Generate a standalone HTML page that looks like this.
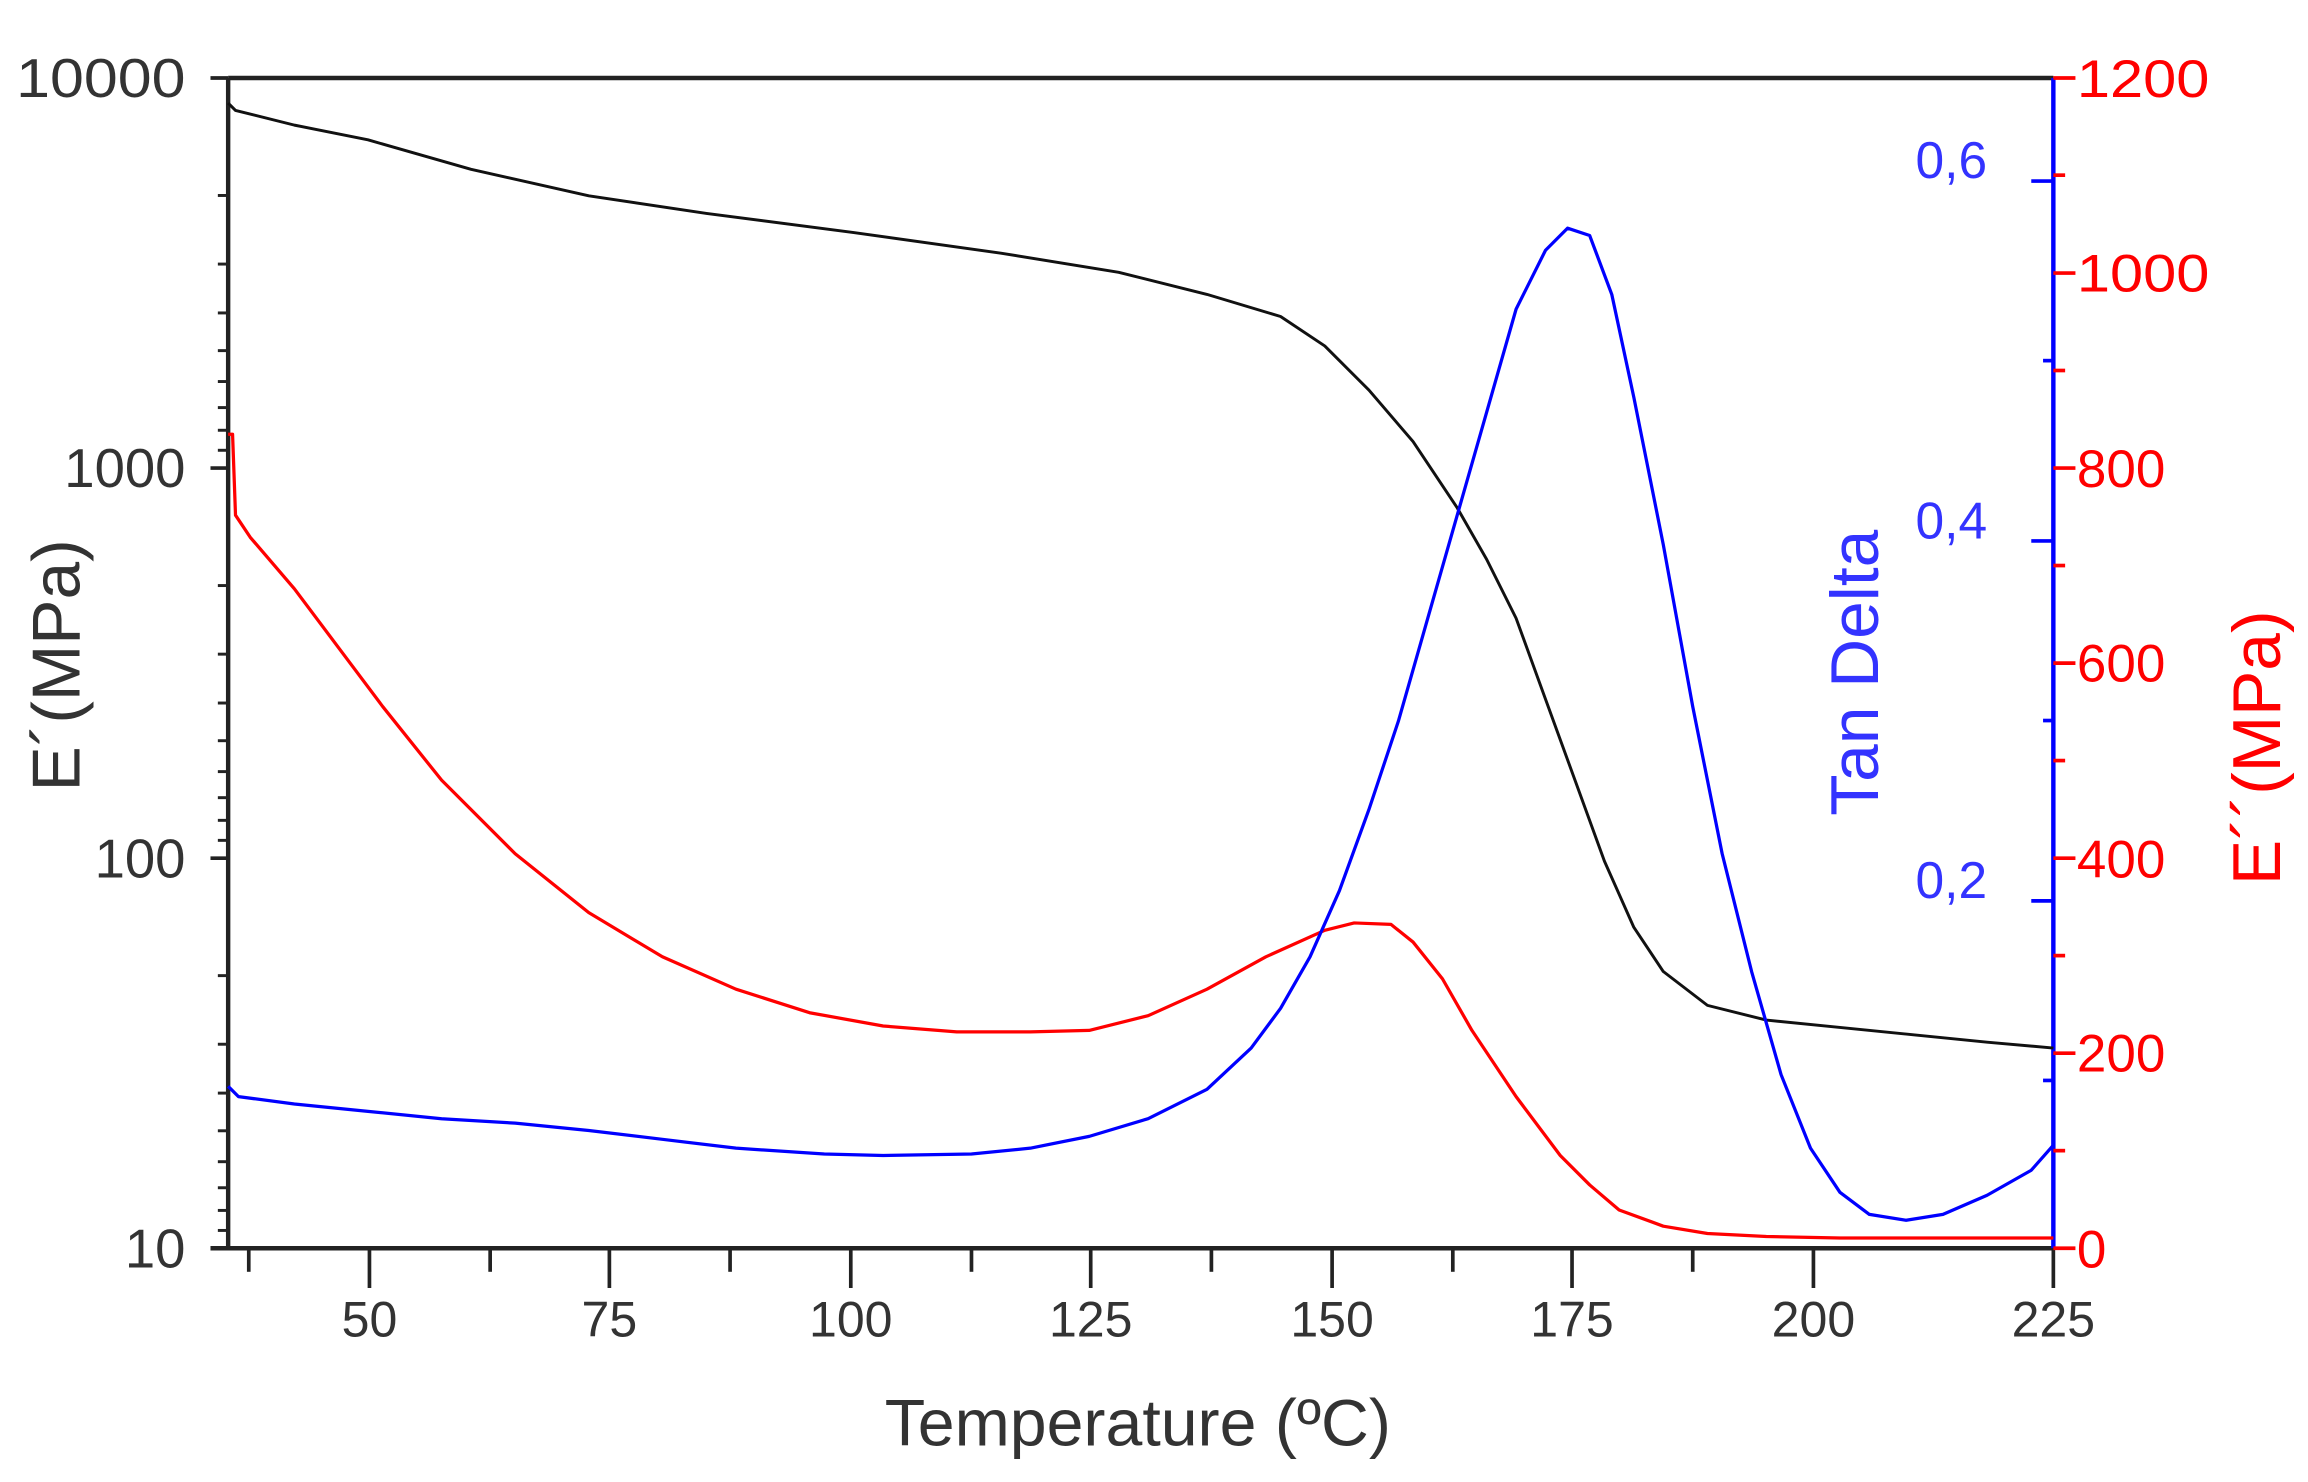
<!DOCTYPE html>
<html><head><meta charset="utf-8"><style>html,body{margin:0;padding:0;background:#fff}svg{display:block}</style></head>
<body>
<svg width="2308" height="1482" viewBox="0 0 1568 1006.8" preserveAspectRatio="none" xmlns="http://www.w3.org/2000/svg" font-family="Liberation Sans, sans-serif">
<rect width="1568" height="1007" fill="#fff"/>
<line x1="155" y1="53" x2="1395" y2="53" stroke="#222" stroke-width="3"/>
<line x1="155" y1="53" x2="155" y2="848" stroke="#222" stroke-width="3"/>
<line x1="143" y1="848" x2="1395" y2="848" stroke="#222" stroke-width="3"/>
<line x1="1395" y1="53" x2="1395" y2="848" stroke="#00f" stroke-width="3"/>
<g stroke="#222" stroke-width="2.5">
<line x1="251" y1="848" x2="251" y2="875"/><line x1="414" y1="848" x2="414" y2="875"/><line x1="578" y1="848" x2="578" y2="875"/><line x1="741" y1="848" x2="741" y2="875"/><line x1="905" y1="848" x2="905" y2="875"/><line x1="1068" y1="848" x2="1068" y2="875"/><line x1="1232" y1="848" x2="1232" y2="875"/><line x1="1395" y1="848" x2="1395" y2="875"/>
<line x1="169" y1="848" x2="169" y2="864"/><line x1="333" y1="848" x2="333" y2="864"/><line x1="496" y1="848" x2="496" y2="864"/><line x1="660" y1="848" x2="660" y2="864"/><line x1="823" y1="848" x2="823" y2="864"/><line x1="987" y1="848" x2="987" y2="864"/><line x1="1150" y1="848" x2="1150" y2="864"/>
</g>
<g fill="#333" font-size="34" text-anchor="middle">
<text x="251" y="908">50</text><text x="414" y="908">75</text><text x="578" y="908">100</text><text x="741" y="908">125</text><text x="905" y="908">150</text><text x="1068" y="908">175</text><text x="1232" y="908">200</text><text x="1395" y="908">225</text>
</g>
<text x="773" y="982" fill="#333" font-size="45" text-anchor="middle">Temperature (ºC)</text>
<g stroke="#222" stroke-width="2.5">
<line x1="143" y1="53" x2="155" y2="53"/><line x1="143" y1="318" x2="155" y2="318"/><line x1="143" y1="583" x2="155" y2="583"/>
</g>
<g stroke="#222" stroke-width="2">
<line x1="148" y1="132.8" x2="155" y2="132.8"/><line x1="148" y1="179.4" x2="155" y2="179.4"/><line x1="148" y1="212.6" x2="155" y2="212.6"/><line x1="148" y1="238.2" x2="155" y2="238.2"/><line x1="148" y1="259.2" x2="155" y2="259.2"/><line x1="148" y1="276.9" x2="155" y2="276.9"/><line x1="148" y1="292.3" x2="155" y2="292.3"/><line x1="148" y1="305.9" x2="155" y2="305.9"/>
<line x1="148" y1="397.8" x2="155" y2="397.8"/><line x1="148" y1="444.4" x2="155" y2="444.4"/><line x1="148" y1="477.6" x2="155" y2="477.6"/><line x1="148" y1="503.2" x2="155" y2="503.2"/><line x1="148" y1="524.2" x2="155" y2="524.2"/><line x1="148" y1="541.9" x2="155" y2="541.9"/><line x1="148" y1="557.3" x2="155" y2="557.3"/><line x1="148" y1="570.9" x2="155" y2="570.9"/>
<line x1="148" y1="662.8" x2="155" y2="662.8"/><line x1="148" y1="709.4" x2="155" y2="709.4"/><line x1="148" y1="742.6" x2="155" y2="742.6"/><line x1="148" y1="768.2" x2="155" y2="768.2"/><line x1="148" y1="789.2" x2="155" y2="789.2"/><line x1="148" y1="806.9" x2="155" y2="806.9"/><line x1="148" y1="822.3" x2="155" y2="822.3"/><line x1="148" y1="835.9" x2="155" y2="835.9"/>
</g>
<g fill="#333" font-size="37" text-anchor="end">
<text x="126" y="66" textLength="115" lengthAdjust="spacingAndGlyphs">10000</text><text x="126" y="331">1000</text><text x="126" y="596">100</text><text x="126" y="861">10</text>
</g>
<text transform="translate(54,452) rotate(-90)" fill="#333" font-size="46" text-anchor="middle">E´(MPa)</text>
<g stroke="#f00" stroke-width="2.5">
<line x1="1395" y1="53" x2="1410" y2="53"/><line x1="1395" y1="185.5" x2="1410" y2="185.5"/><line x1="1395" y1="318" x2="1410" y2="318"/><line x1="1395" y1="450.5" x2="1410" y2="450.5"/><line x1="1395" y1="583" x2="1410" y2="583"/><line x1="1395" y1="715.5" x2="1410" y2="715.5"/><line x1="1395" y1="848" x2="1410" y2="848"/>
<line x1="1395" y1="119" x2="1403" y2="119"/><line x1="1395" y1="251.7" x2="1403" y2="251.7"/><line x1="1395" y1="384.2" x2="1403" y2="384.2"/><line x1="1395" y1="516.7" x2="1403" y2="516.7"/><line x1="1395" y1="649.2" x2="1403" y2="649.2"/><line x1="1395" y1="781.7" x2="1403" y2="781.7"/>
</g>
<g fill="#f00" font-size="36">
<text x="1411" y="66" textLength="90" lengthAdjust="spacingAndGlyphs">1200</text><text x="1411" y="198" textLength="90" lengthAdjust="spacingAndGlyphs">1000</text><text x="1411" y="331">800</text><text x="1411" y="463">600</text><text x="1411" y="596">400</text><text x="1411" y="728">200</text><text x="1411" y="861">0</text>
</g>
<text transform="translate(1549,508) rotate(-90)" fill="#f00" font-size="46" text-anchor="middle">E´´(MPa)</text>
<g stroke="#00f" stroke-width="2.5">
<line x1="1380" y1="123" x2="1395" y2="123"/><line x1="1380" y1="367.5" x2="1395" y2="367.5"/><line x1="1380" y1="612" x2="1395" y2="612"/>
<line x1="1388" y1="245" x2="1395" y2="245"/><line x1="1388" y1="489.5" x2="1395" y2="489.5"/><line x1="1388" y1="734" x2="1395" y2="734"/>
</g>
<g fill="#33f" font-size="35" text-anchor="end">
<text x="1350" y="121">0,6</text><text x="1350" y="366">0,4</text><text x="1350" y="610">0,2</text>
</g>
<text transform="translate(1276,457) rotate(-90)" fill="#33f" font-size="46" text-anchor="middle">Tan Delta</text>
<polyline fill="none" stroke="#111" stroke-width="2" stroke-linejoin="round" points="155,70 160,75 200,85 250,95 320,115 400,133 480,145 580,158 680,172 760,185 820,200 870,215 900,235 930,265 960,300 990,345 1010,380 1030,420 1050,475 1070,530 1090,585 1110,630 1130,660 1160,683 1200,693 1250,698 1300,703 1350,708 1395,712"/>
<polyline fill="none" stroke="#f00" stroke-width="2.2" stroke-linejoin="round" points="155,295 158,295 160,350 170,365 200,400 230,440 260,480 300,530 350,580 400,620 450,650 500,672 550,688 600,697 650,701 700,701 740,700 780,690 820,672 860,650 900,632 920,627 945,628 960,640 980,665 1000,700 1030,745 1060,785 1080,805 1100,822 1130,833 1160,838 1200,840 1250,841 1395,841"/>
<polyline fill="none" stroke="#00f" stroke-width="2.2" stroke-linejoin="round" points="155,738 162,745 200,750 250,755 300,760 350,763 400,768 450,774 500,780 560,784 600,785 660,784 700,780 740,772 780,760 820,740 850,712 870,685 890,650 910,605 930,550 950,490 970,420 990,350 1010,280 1030,210 1050,170 1065,155 1080,160 1095,200 1110,270 1130,370 1150,480 1170,580 1190,660 1210,730 1230,780 1250,810 1270,825 1295,829 1320,825 1350,812 1380,795 1395,778"/>
</svg>
</body></html>
